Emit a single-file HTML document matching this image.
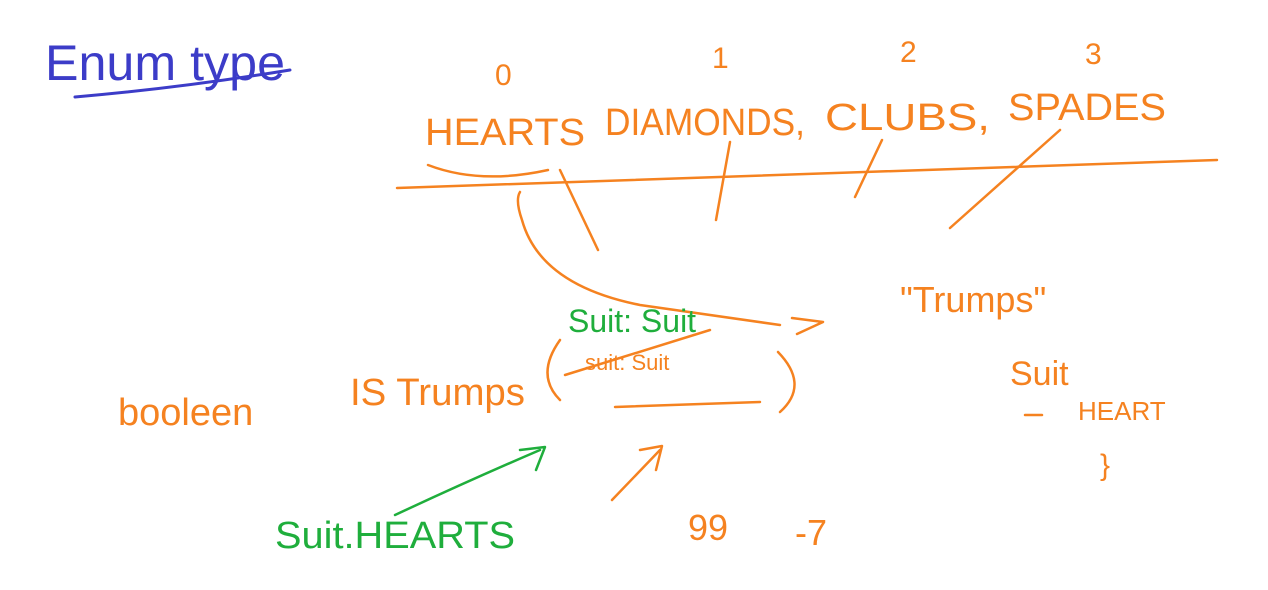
<!DOCTYPE html>
<html>
<head>
<meta charset="utf-8">
<style>
  html,body{margin:0;padding:0;background:#fff;}
  svg{display:block;}
  text{font-family:"Liberation Sans",sans-serif;}
  .o{fill:#f58220;}
  .g{fill:#1fae3c;}
  .b{fill:#3c3cc8;}
  .so{stroke:#f58220;fill:none;stroke-width:2.5;stroke-linecap:round;stroke-linejoin:round;}
  .sg{stroke:#1fae3c;fill:none;stroke-width:2.5;stroke-linecap:round;stroke-linejoin:round;}
  .sb{stroke:#3c3cc8;fill:none;stroke-width:3;stroke-linecap:round;}
</style>
</head>
<body>
<svg width="1268" height="590" viewBox="0 0 1268 590">
  <rect width="1268" height="590" fill="#fff"/>

  <text class="b" x="45" y="80" font-size="50" textLength="240" lengthAdjust="spacingAndGlyphs">Enum type</text>
  <path class="sb" d="M75 97 Q180 88 290 70"/>

  <text class="o" x="495" y="85" font-size="30">0</text>
  <text class="o" x="712" y="68" font-size="30">1</text>
  <text class="o" x="900" y="62" font-size="30">2</text>
  <text class="o" x="1085" y="64" font-size="30">3</text>

  <text class="o" x="425" y="145" font-size="38" textLength="160" lengthAdjust="spacingAndGlyphs">HEARTS</text>
  <text class="o" x="605" y="135" font-size="38" textLength="200" lengthAdjust="spacingAndGlyphs">DIAMONDS,</text>
  <text class="o" x="825" y="130" font-size="38" textLength="165" lengthAdjust="spacingAndGlyphs">CLUBS,</text>
  <text class="o" x="1008" y="120" font-size="38" textLength="158" lengthAdjust="spacingAndGlyphs">SPADES</text>

  <path class="so" d="M397 188 L1217 160"/>
  <path class="so" d="M428 165 Q480 185 548 170"/>
  <path class="so" d="M560 170 L598 250"/>
  <path class="so" d="M730 142 L716 220"/>
  <path class="so" d="M882 140 L855 197"/>
  <path class="so" d="M1060 130 L950 228"/>
  <path class="so" d="M520 192 Q515 200 522 220 Q540 285 640 305 L780 325"/>
  <path class="so" d="M792 318 L823 322 L797 334"/>

  <text class="o" x="900" y="312" font-size="36">"Trumps"</text>

  <text class="g" x="568" y="332" font-size="32">Suit: Suit</text>
  <text class="o" x="585" y="370" font-size="22">suit: Suit</text>
  <path class="so" d="M565 375 L710 330"/>

  <text class="o" x="118" y="425" font-size="38">booleen</text>
  <text class="o" x="350" y="405" font-size="38" textLength="175" lengthAdjust="spacingAndGlyphs">IS Trumps</text>
  <path class="so" d="M560 340 Q535 375 560 400"/>
  <path class="so" d="M778 352 Q810 385 780 412"/>
  <path class="so" d="M615 407 L760 402"/>

  <text class="o" x="1010" y="385" font-size="34">Suit</text>
  <path class="so" d="M1025 415 L1042 415"/>
  <text class="o" x="1078" y="420" font-size="26">HEART</text>
  <text class="o" x="1100" y="475" font-size="30">}</text>

  <path class="sg" d="M395 515 Q470 480 540 450"/>
  <path class="sg" d="M520 450 L545 447 L536 470"/>
  <text class="g" x="275" y="548" font-size="38" textLength="240" lengthAdjust="spacingAndGlyphs">Suit.HEARTS</text>

  <path class="so" d="M612 500 L660 450"/>
  <path class="so" d="M640 450 L662 446 L656 470"/>
  <text class="o" x="688" y="540" font-size="36">99</text>
  <text class="o" x="795" y="545" font-size="36">-7</text>
</svg>
</body>
</html>
